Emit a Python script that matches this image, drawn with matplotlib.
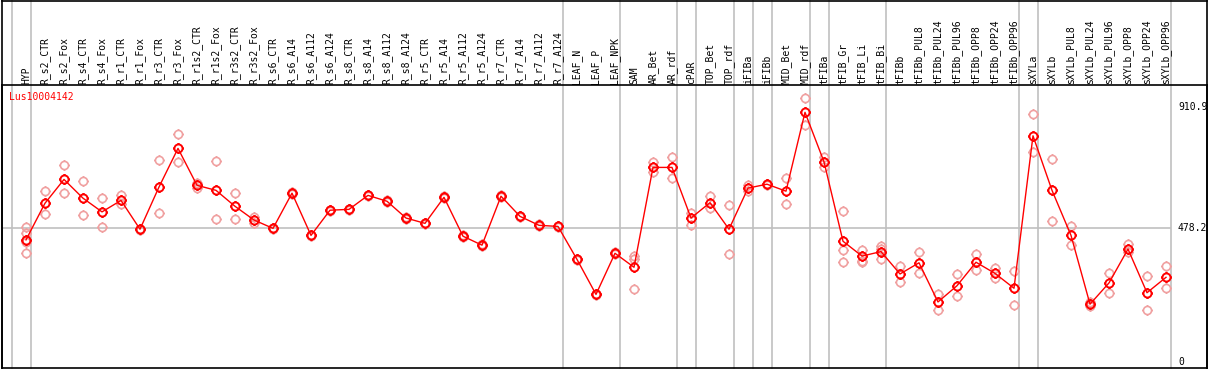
import numpy as np
import matplotlib
matplotlib.use("Agg")
import matplotlib.pyplot as plt
from matplotlib.path import Path

# sample labels
samples = [
    "HYP", "R_s2_CTR", "R_s2_Fox", "R_s4_CTR", "R_s4_Fox", "R_r1_CTR", "R_r1_Fox",
    "R_r3_CTR", "R_r3_Fox", "R_r1s2_CTR", "R_r1s2_Fox", "R_r3s2_CTR", "R_r3s2_Fox",
    "R_s6_CTR", "R_s6_A14", "R_s6_A112", "R_s6_A124", "R_s8_CTR", "R_s8_A14",
    "R_s8_A112", "R_s8_A124", "R_r5_CTR", "R_r5_A14", "R_r5_A112", "R_r5_A124",
    "R_r7_CTR", "R_r7_A14", "R_r7_A112", "R_r7_A124", "LEAF_N", "LEAF_P", "LEAF_NPK",
    "SAM", "AR_Bet", "AR_rdf", "cPAR", "TOP_Bet", "TOP_rdf", "iFIBa", "iFIBb",
    "MID_Bet", "MID_rdf", "tFIBa", "tFIB_Gr", "tFIB_Li", "tFIB_Bi", "tFIBb",
    "tFIBb_PUL8", "tFIBb_PUL24", "tFIBb_PUL96", "tFIBb_OPP8", "tFIBb_OPP24",
    "tFIBb_OPP96", "sXYLa", "sXYLb", "sXYLb_PUL8", "sXYLb_PUL24", "sXYLb_PUL96",
    "sXYLb_OPP8", "sXYLb_OPP24", "sXYLb_OPP96",
]

# mean expression per sample
means = [
    436, 567, 652, 585, 536, 577, 474, 625, 763, 631, 613, 556, 507,
    477, 603, 452, 542, 545, 595, 574, 514, 495, 588, 449, 417,
    592, 520, 488, 484, 366, 241, 388,
    338, 695, 695, 514, 569, 474, 621, 635,
    610, 892, 715, 431, 378, 394, 314,
    354, 214, 272, 356, 316, 263,
    808, 613, 452, 206, 282, 403, 247, 302,
]

# replicate values per sample
reps = [
    [483, 459, 430, 390], [611, 527], [702, 602], [646, 524], [584, 481], [596, 563], [476, 471],
    [720, 531], [814, 713], [638, 622], [717, 510], [602, 510], [519, 497],
    [480, 474], [606, 600], [455, 449], [544, 539], [548, 542], [598, 592], [577, 571],
    [517, 511], [498, 492], [591, 585], [452, 446], [420, 414],
    [595, 589], [523, 517], [491, 485], [487, 481], [369, 363], [244, 238], [391, 385],
    [378, 368, 259], [714, 677], [731, 656], [533, 490], [593, 551], [559, 385], [631, 612], [637, 632],
    [657, 563], [942, 846], [731, 695], [538, 401, 356], [400, 362, 358], [414, 405, 367], [342, 285],
    [391, 316], [242, 185], [313, 234], [385, 327], [335, 300], [325, 202],
    [885, 750], [724, 503], [485, 416], [213, 200], [317, 245], [421, 394], [307, 185], [342, 263],
]

# index of last sample in each group (vertical separators)
group_ends = [-1, 0, 28, 31, 34, 35, 37, 38, 39, 41, 42, 45, 52, 53, 60]

gene = "Lus10004142"
ref_line = 478.2
y_ticks = [910.9, 478.2, 0]

W, H = 1209, 370
fig = plt.figure(figsize=(W / 100, H / 100), dpi=100)

# pixel geometry
x0_px, step_px = 26.0, 19.0
left_px, right_px, top_px, bot_px = 2, 1207, 85, 368
y_zero_px, k_px = 361.8, 0.2797

ax = fig.add_axes([left_px / W, 1 - bot_px / H, (right_px - left_px) / W, (bot_px - top_px) / H])
ax.set_xlim((left_px - x0_px) / step_px, (right_px - x0_px) / step_px)
ax.set_ylim((y_zero_px - bot_px) / k_px, (y_zero_px - top_px) / k_px)
ax.set_xticks([])
ax.set_yticks([])
for s in ax.spines.values():
    s.set_color("black")
    s.set_linewidth(1.2)

top_frac = bot_px / (bot_px - top_px)  # axes fraction reaching figure top
off = 4.5 / step_px
n = len(samples)
x = np.arange(n)

for g in group_ends:
    ax.axvline(g + off, ymin=0, ymax=top_frac, color="#c0c0c0", lw=1.2, clip_on=False, zorder=1)

ax.hlines(ref_line, (left_px - x0_px) / step_px, n - 1 + off, color="#c0c0c0", lw=1.2, zorder=1)

# figure borders above the axes
fig.add_artist(plt.Line2D([left_px / W, right_px / W], [1 - 0.6 / H, 1 - 0.6 / H], color="black", lw=1.2))
fig.add_artist(plt.Line2D([left_px / W, left_px / W], [1 - bot_px / H, 1], color="black", lw=1.2))
fig.add_artist(plt.Line2D([right_px / W, right_px / W], [1 - bot_px / H, 1], color="black", lw=1.2))

# circle marker with small stubs
circ = Path.unit_circle()
stubs = Path(
    [(0, 1), (0, 1.3), (0, -1), (0, -1.3), (1, 0), (1.3, 0), (-1, 0), (-1.3, 0)],
    [Path.MOVETO, Path.LINETO] * 4,
)
mk = Path.make_compound_path(circ, stubs)

rx = [i for i, r in enumerate(reps) for _ in r]
ry = [v for r in reps for v in r]
ax.plot(rx, ry, linestyle="none", marker=mk, markersize=7.6, markerfacecolor="none",
        markeredgecolor="#f0a0a0", markeredgewidth=1.2, zorder=2)

ax.plot(x, means, color="red", lw=1.0, zorder=3)
ax.plot(x, means, linestyle="none", marker=mk, markersize=7.6, markerfacecolor="none",
        markeredgecolor="red", markeredgewidth=1.4, zorder=4)

font = dict(family="DejaVu Sans Mono", fontsize=7)
label_y = ax.get_ylim()[1] + 1.5 / k_px
for i, lab in enumerate(samples):
    ax.text(i, label_y, lab, rotation=90, ha="center", va="bottom", clip_on=False, **font)

ax.text((9 - x0_px) / step_px, (y_zero_px - 97) / k_px, gene, color="red",
        ha="left", va="center", **font)

for t in y_ticks:
    ax.text((1178 - x0_px) / step_px, t, f"{t:g}", ha="left", va="center", **font)

fig.savefig("out.png", dpi=100)
